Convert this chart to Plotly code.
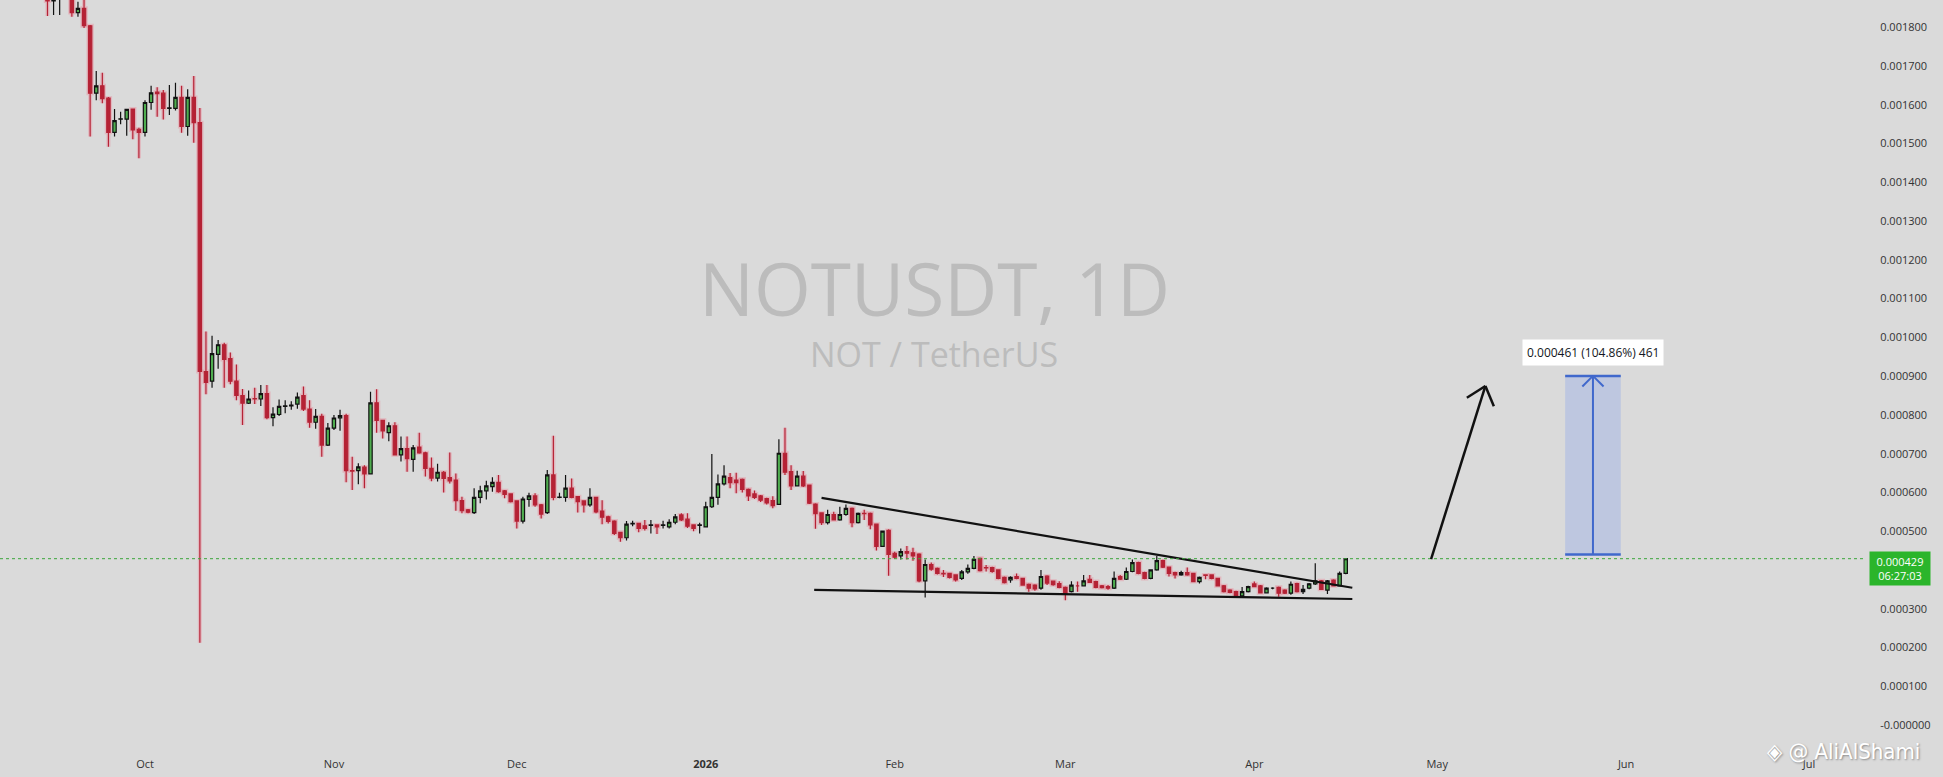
import math
import pandas as pd
import plotly.graph_objects as go

# ---------------- data (prices in units of 1e-4 USDT) ----------------
UNIT = 1e-4
DATES = pd.date_range("2025-09-15", "2026-04-16", freq="D")

OPEN = [
    # Sep 15-30
    18.85, 18.68, 18.72, 18.85, 18.95, 18.38, 18.49, 18.04, 16.30, 16.49, 16.17, 15.29, 15.63, 15.63, 15.89, 15.37,
    # Oct
    15.29, 16.06, 16.33, 16.30, 15.91, 15.91, 16.19, 15.44, 16.19, 15.54, 9.12, 8.87, 9.56, 9.81, 9.45, 8.87, 8.50, 8.30, 8.42, 8.41,
    8.55, 7.93, 8.01, 8.22, 8.23, 8.28, 8.50, 8.15, 7.81, 7.96, 7.22,
    # Nov
    7.66, 7.92, 7.98, 6.56, 6.56, 6.65, 6.48, 8.31, 7.86, 7.54, 7.72, 6.97, 7.13, 6.85, 7.17, 7.02, 6.62, 6.37, 6.52, 6.38,
    6.32, 5.79, 5.55, 5.48, 5.87, 6.04, 6.15, 6.26, 6.04, 5.96,
    # Dec
    5.78, 5.26, 5.82, 5.91, 5.68, 5.48, 6.45, 5.87, 5.87, 6.11, 5.89, 5.78, 5.68, 5.87, 5.52, 5.37, 5.26, 4.97, 4.83, 5.19,
    5.20, 5.14, 5.15, 5.16, 5.15, 5.11, 5.23, 5.42, 5.31, 5.16, 5.15,
    # Jan
    5.11, 5.63, 5.87, 6.22, 6.38, 6.32, 6.34, 6.08, 5.96, 5.91, 5.84, 5.79, 5.69, 7.01, 6.54, 6.17, 6.42, 6.19, 5.70, 5.47,
    5.22, 5.43, 5.29, 5.43, 5.59, 5.22, 5.46, 5.46, 5.18, 4.61, 5.02,
    # Feb
    4.43, 4.36, 4.47, 4.44, 4.41, 3.72, 4.14, 4.04, 3.91, 3.91, 3.87, 3.78, 3.95, 4.04, 4.30, 4.06, 4.06, 4.00, 3.81, 3.74,
    3.83, 3.78, 3.63, 3.61, 3.53, 3.84, 3.71, 3.65,
    # Mar
    3.55, 3.44, 3.59, 3.59, 3.76, 3.70, 3.59, 3.57, 3.53, 3.83, 3.76, 3.96, 4.19, 3.93, 3.78, 4.00, 4.24, 4.07, 3.93, 3.87,
    3.93, 3.91, 3.70, 3.87, 3.87, 3.78, 3.59, 3.48, 3.44, 3.33, 3.44,
    # Apr 1-16
    3.64, 3.59, 3.41, 3.53, 3.55, 3.48, 3.40, 3.65, 3.44, 3.53, 3.64, 3.72, 3.48, 3.74, 3.59, 3.91,
]
HIGH = [
    18.95, 18.78, 18.95, 19.10, 19.05, 18.66, 18.72, 18.06, 16.87, 16.83, 16.20, 15.89, 15.82, 15.89, 15.90, 15.41,
    16.12, 16.49, 16.45, 16.38, 16.51, 16.57, 16.49, 16.40, 16.74, 15.92, 10.15, 10.04, 9.93, 9.86, 9.61, 9.30, 8.67, 8.63, 8.70, 8.77,
    8.77, 8.20, 8.40, 8.38, 8.35, 8.58, 8.73, 8.38, 8.15, 8.03, 7.79,
    8.00, 8.13, 8.03, 6.92, 6.75, 6.70, 8.60, 8.66, 7.86, 7.81, 7.81, 7.44, 7.44, 7.22, 7.54, 7.05, 6.90, 6.74, 6.55, 7.03,
    6.49, 5.89, 5.57, 6.11, 6.17, 6.30, 6.39, 6.45, 6.06, 5.98,
    5.80, 5.89, 5.99, 5.98, 5.70, 6.58, 7.46, 5.99, 6.45, 6.36, 5.90, 5.80, 6.11, 5.88, 5.80, 5.40, 5.28, 4.98, 5.26, 5.27,
    5.22, 5.29, 5.29, 5.18, 5.27, 5.31, 5.44, 5.46, 5.46, 5.18, 5.22,
    5.76, 6.99, 6.46, 6.70, 6.50, 6.51, 6.36, 6.10, 6.05, 5.93, 5.86, 5.90, 7.37, 7.67, 6.70, 6.56, 6.55, 6.20, 5.72, 5.49,
    5.55, 5.50, 5.63, 5.69, 5.61, 5.48, 5.55, 5.48, 5.20, 5.01, 5.05,
    4.47, 4.55, 4.62, 4.57, 4.43, 4.27, 4.19, 4.06, 4.00, 3.93, 3.89, 4.00, 4.14, 4.36, 4.32, 4.13, 4.08, 4.02, 3.83, 3.84,
    3.91, 3.80, 3.65, 3.63, 4.00, 3.86, 3.73, 3.71,
    3.57, 3.71, 3.70, 3.87, 3.87, 3.72, 3.61, 3.61, 3.96, 3.87, 4.06, 4.27, 4.21, 3.95, 4.02, 4.36, 4.26, 4.09, 3.95, 3.98,
    4.06, 3.93, 3.83, 3.88, 3.89, 3.80, 3.61, 3.50, 3.46, 3.56, 3.59,
    3.70, 3.61, 3.55, 3.55, 3.57, 3.50, 3.70, 3.67, 3.61, 3.66, 4.17, 3.74, 3.74, 3.76, 3.96, 4.29,
]
LOW = [
    18.29, 18.32, 18.32, 18.78, 18.27, 18.27, 17.98, 15.18, 16.12, 16.04, 14.92, 15.18, 15.50, 15.20, 15.11, 14.62,
    15.18, 15.87, 15.69, 15.62, 15.74, 15.85, 15.28, 15.20, 15.02, 2.12, 8.53, 8.70, 9.19, 8.70, 8.79, 8.38, 7.74, 8.28, 8.28, 8.23,
    7.89, 7.71, 7.97, 8.04, 8.13, 8.16, 8.10, 7.67, 7.64, 6.92, 7.20,
    7.61, 7.59, 6.26, 6.06, 6.21, 6.11, 6.46, 7.54, 7.39, 7.32, 6.95, 6.80, 6.53, 6.53, 7.00, 6.41, 6.29, 6.28, 6.00, 6.23,
    5.53, 5.46, 5.46, 5.44, 5.72, 5.82, 6.02, 5.99, 5.85, 5.74,
    5.07, 5.20, 5.63, 5.63, 5.33, 5.44, 5.80, 5.85, 5.76, 5.85, 5.48, 5.48, 5.63, 5.46, 5.18, 5.20, 4.90, 4.73, 4.76, 5.13,
    4.97, 5.02, 4.94, 4.93, 5.07, 5.07, 5.18, 5.26, 5.08, 5.00, 4.94,
    5.11, 5.60, 5.68, 6.18, 6.11, 5.98, 6.00, 5.78, 5.83, 5.75, 5.69, 5.59, 5.69, 6.45, 6.06, 6.16, 6.14, 5.70, 5.06, 5.16,
    5.17, 5.28, 5.27, 5.40, 5.10, 5.20, 5.29, 5.05, 4.50, 4.60, 3.85,
    4.28, 4.27, 4.27, 4.24, 3.68, 3.29, 3.98, 3.88, 3.82, 3.78, 3.70, 3.74, 3.90, 4.02, 3.96, 3.96, 3.93, 3.76, 3.65, 3.67,
    3.76, 3.59, 3.44, 3.46, 3.49, 3.61, 3.59, 3.53,
    3.22, 3.42, 3.44, 3.57, 3.66, 3.53, 3.52, 3.49, 3.51, 3.74, 3.74, 3.94, 3.89, 3.76, 3.76, 3.98, 4.05, 3.83, 3.78, 3.85,
    3.85, 3.68, 3.65, 3.76, 3.76, 3.57, 3.42, 3.40, 3.30, 3.31, 3.42,
    3.55, 3.39, 3.39, 3.50, 3.31, 3.38, 3.36, 3.42, 3.38, 3.50, 3.61, 3.48, 3.38, 3.57, 3.57, 3.89,
]
CLOSE = [
    18.68, 18.72, 18.85, 18.95, 18.38, 18.49, 18.04, 16.30, 16.49, 16.16, 15.29, 15.59, 15.64, 15.88, 15.35, 15.29,
    16.06, 16.31, 16.29, 15.91, 15.92, 16.19, 15.44, 16.19, 15.54, 9.12, 8.84, 9.58, 9.81, 9.43, 8.87, 8.50, 8.30, 8.41, 8.41, 8.55,
    7.93, 8.02, 8.22, 8.23, 8.25, 8.46, 8.15, 7.81, 7.96, 7.22, 7.66,
    7.92, 7.98, 6.56, 6.55, 6.66, 6.48, 8.31, 7.86, 7.59, 7.72, 6.97, 7.13, 6.87, 7.15, 7.02, 6.62, 6.37, 6.52, 6.36, 6.30,
    5.79, 5.53, 5.49, 5.87, 6.04, 6.17, 6.26, 6.02, 5.95, 5.76,
    5.26, 5.83, 5.91, 5.68, 5.44, 6.45, 5.87, 5.88, 6.11, 5.87, 5.76, 5.68, 5.87, 5.50, 5.36, 5.25, 4.94, 4.83, 5.18, 5.20,
    5.07, 5.07, 5.16, 5.11, 5.16, 5.23, 5.37, 5.29, 5.13, 5.07, 5.16,
    5.63, 5.87, 6.22, 6.42, 6.25, 6.25, 6.08, 5.91, 5.87, 5.80, 5.73, 5.66, 7.01, 6.52, 6.17, 6.42, 6.17, 5.72, 5.45, 5.22,
    5.43, 5.29, 5.43, 5.59, 5.22, 5.46, 5.45, 5.16, 4.61, 5.00, 4.40,
    4.33, 4.47, 4.43, 4.36, 3.72, 4.14, 4.02, 3.91, 3.90, 3.81, 3.74, 3.95, 4.04, 4.27, 3.98, 4.05, 3.96, 3.78, 3.67, 3.81,
    3.78, 3.61, 3.53, 3.51, 3.83, 3.66, 3.62, 3.55,
    3.40, 3.61, 3.59, 3.72, 3.68, 3.55, 3.54, 3.53, 3.78, 3.76, 3.96, 4.19, 3.91, 3.78, 4.00, 4.24, 4.07, 3.91, 3.87, 3.93,
    3.87, 3.70, 3.81, 3.86, 3.78, 3.59, 3.44, 3.42, 3.33, 3.44, 3.57,
    3.57, 3.41, 3.53, 3.53, 3.40, 3.40, 3.63, 3.44, 3.50, 3.64, 3.72, 3.50, 3.72, 3.59, 3.91, 4.29,
]
assert len(OPEN) == len(HIGH) == len(LOW) == len(CLOSE) == len(DATES)

# axis ticks
Y_TICK_VALUES = [0.0018, 0.0017, 0.0016, 0.0015, 0.0014, 0.0013, 0.0012, 0.0011, 0.0010,
                 0.0009, 0.0008, 0.0007, 0.0006, 0.0005, 0.0003, 0.0002, 0.0001, 0.0]
Y_TICK_TEXT = ["0.001800", "0.001700", "0.001600", "0.001500", "0.001400", "0.001300", "0.001200",
               "0.001100", "0.001000", "0.000900", "0.000800", "0.000700", "0.000600", "0.000500",
               "0.000300", "0.000200", "0.000100", "-0.000000"]
X_TICK_DATES = ["2025-10-01", "2025-11-01", "2025-12-01", "2026-01-01", "2026-02-01", "2026-03-01",
                "2026-04-01", "2026-05-01", "2026-06-01", "2026-07-01"]
X_TICK_TEXT = ["Oct", "Nov", "Dec", "<b>2026</b>", "Feb", "Mar", "Apr", "May", "Jun", "Jul"]

# drawings (date, price)
UPPER_TREND = [("2026-01-20 00:00", 0.000586), ("2026-04-17 02:00", 0.000354)]
LOWER_TREND = [("2026-01-18 19:00", 0.0003485), ("2026-04-17 02:00", 0.000325)]
ARROW = [("2026-04-30 00:00", 0.000428), ("2026-05-08 22:00", 0.0008746)]
CURRENT_PRICE = 0.000429
COUNTDOWN = "06:27:03"
LONG_BASE = 0.00043964
LONG_TARGET = 0.00090064
LONG_X = ("2026-05-22 00:00", "2026-05-31 03:00")

# ---------------- geometry ----------------
W, H = 1943, 777
M_L, M_R, M_T, M_B = 0, 77, 0, 28
PW, PH = W - M_L - M_R, H - M_T - M_B
OCT1 = pd.Timestamp("2025-10-01")
X0 = OCT1 - pd.Timedelta(days=23.79)
X1 = OCT1 + pd.Timedelta(days=282.36)
Y0, Y1 = -0.0000620, 0.0018704
PX_PER_DAY = PW / ((X1 - X0) / pd.Timedelta(days=1))
PX_PER_VAL = PH / (Y1 - Y0)

BG = "#dadada"
RED = "#b52235"
GREEN = "#4fad4f"
BLUE = "#4068cc"

o = [v * UNIT for v in OPEN]
h = [v * UNIT for v in HIGH]
l = [v * UNIT for v in LOW]
c = [v * UNIT for v in CLOSE]

fig = go.Figure()
# soft pink halo behind falling candles
fig.add_trace(go.Candlestick(
    x=DATES, open=o, high=h, low=l, close=c,
    increasing=dict(line=dict(color="rgba(0,0,0,0)", width=0), fillcolor="rgba(0,0,0,0)"),
    decreasing=dict(line=dict(color="rgba(238,120,140,0.35)", width=4), fillcolor="rgba(238,120,140,0.35)"),
    hoverinfo="skip", showlegend=False))
fig.add_trace(go.Candlestick(
    x=DATES, open=o, high=h, low=l, close=c,
    increasing=dict(line=dict(color="#111111", width=1.2), fillcolor=GREEN),
    decreasing=dict(line=dict(color=RED, width=1.2), fillcolor=RED),
    showlegend=False))


def shift(date, val, dx, dy):
    """move a (date, value) point by dx px right and dy px down"""
    d = pd.Timestamp(date) + pd.Timedelta(days=dx / PX_PER_DAY)
    return d, val - dy / PX_PER_VAL


def chevron(tip, tail, length, angle_deg, color, width):
    td, tv = pd.Timestamp(tip[0]), tip[1]
    sd, sv = pd.Timestamp(tail[0]), tail[1]
    dx = (sd - td) / pd.Timedelta(days=1) * PX_PER_DAY
    dy = -(sv - tv) * PX_PER_VAL
    n = math.hypot(dx, dy)
    ux, uy = dx / n, dy / n
    out = []
    for s in (1, -1):
        a = math.radians(angle_deg) * s
        rx = ux * math.cos(a) - uy * math.sin(a)
        ry = ux * math.sin(a) + uy * math.cos(a)
        wd, wv = shift(td, tv, rx * length, ry * length)
        out.append(dict(type="line", xref="x", yref="y", x0=td, y0=tv, x1=wd, y1=wv,
                        line=dict(color=color, width=width)))
    return out


shapes = []
for seg in (UPPER_TREND, LOWER_TREND):
    shapes.append(dict(type="line", xref="x", yref="y", x0=seg[0][0], y0=seg[0][1],
                       x1=seg[1][0], y1=seg[1][1], line=dict(color="#111111", width=2.2)))
# current price line
shapes.append(dict(type="line", xref="paper", yref="y", x0=0, x1=1, y0=CURRENT_PRICE, y1=CURRENT_PRICE,
                   line=dict(color="#3aa63a", width=1, dash="dot")))
# black forecast arrow
shapes.append(dict(type="line", xref="x", yref="y", x0=ARROW[0][0], y0=ARROW[0][1],
                   x1=ARROW[1][0], y1=ARROW[1][1], line=dict(color="#111111", width=2.5)))
shapes += chevron(ARROW[1], ARROW[0], 22, 40, "#111111", 2.5)
# long position box
shapes.append(dict(type="rect", xref="x", yref="y", x0=LONG_X[0], x1=LONG_X[1], y0=LONG_BASE, y1=LONG_TARGET,
                   fillcolor="rgba(41,98,255,0.16)", line=dict(width=0), layer="below"))
for yv in (LONG_BASE, LONG_TARGET):
    shapes.append(dict(type="line", xref="x", yref="y", x0=LONG_X[0], x1=LONG_X[1], y0=yv, y1=yv,
                       line=dict(color=BLUE, width=2.5)))
mid = pd.Timestamp(LONG_X[0]) + (pd.Timestamp(LONG_X[1]) - pd.Timestamp(LONG_X[0])) / 2
shapes.append(dict(type="line", xref="x", yref="y", x0=mid, x1=mid, y0=LONG_BASE, y1=LONG_TARGET,
                   line=dict(color=BLUE, width=2)))
shapes += chevron((mid, LONG_TARGET), (mid, LONG_BASE), 15, 45, BLUE, 2)

diff = LONG_TARGET - LONG_BASE
label = f"{diff:.6f} ({diff / LONG_BASE * 100:.2f}%) {round(diff / 1e-6)}"

annotations = [
    dict(text="NOTUSDT, 1D", xref="paper", yref="paper", x=934 / PW, y=1 - 287.5 / PH,
         showarrow=False, font=dict(family="Open Sans", size=73, color="#bcbcbc")),
    dict(text="NOT / TetherUS", xref="paper", yref="paper", x=934 / PW, y=1 - 354 / PH,
         showarrow=False, font=dict(family="Open Sans", size=34, color="#bcbcbc")),
    dict(text=label, xref="x", yref="y", x=mid, y=LONG_TARGET, yanchor="bottom", yshift=10,
         showarrow=False, bgcolor="#ffffff", borderpad=4,
         font=dict(family="Open Sans", size=12, color="#131722")),
    dict(text=f"{CURRENT_PRICE:.6f}<br>{COUNTDOWN}", xref="paper", yref="y", x=1 + 3 / PW, y=CURRENT_PRICE,
         xanchor="left", yanchor="top", yshift=8, showarrow=False, bgcolor="#2bb52b", borderpad=2,
         width=56, align="center", font=dict(family="Open Sans", size=11, color="#ffffff")),
    dict(text="◈ @ AliAlShami", xref="paper", yref="paper", x=1843 / PW, y=1 - 751 / PH,
         xanchor="center", yanchor="middle", showarrow=False,
         font=dict(family="DejaVu Sans Condensed, DejaVu Sans", size=22, color="#ffffff",
                   shadow="1px 1px 2px #8a8a8a")),
]

fig.update_layout(
    width=W, height=H,
    margin=dict(l=M_L, r=M_R, t=M_T, b=M_B),
    paper_bgcolor=BG, plot_bgcolor=BG,
    shapes=shapes, annotations=annotations,
    showlegend=False, hovermode=False,
    boxgap=0.22,
    font=dict(family="Open Sans", size=11, color="#333333"),
    xaxis=dict(type="date", range=[X0, X1], rangeslider=dict(visible=False),
               tickvals=X_TICK_DATES, ticktext=X_TICK_TEXT, showgrid=False, zeroline=False,
               showline=False, ticks="outside", ticklen=5, tickcolor="rgba(0,0,0,0)",
               tickfont=dict(size=11, color="#333333")),
    yaxis=dict(side="right", range=[Y0, Y1], tickvals=Y_TICK_VALUES, ticktext=Y_TICK_TEXT,
               showgrid=False, zeroline=False, showline=False, ticks="outside", ticklen=11,
               tickcolor="rgba(0,0,0,0)", tickfont=dict(size=11, color="#333333")),
)

fig.write_html("out.html", config={"displayModeBar": False},
               post_script="document.body.style.margin='0px';document.body.style.overflow='hidden';"
                           "document.body.style.background='" + BG + "';")
